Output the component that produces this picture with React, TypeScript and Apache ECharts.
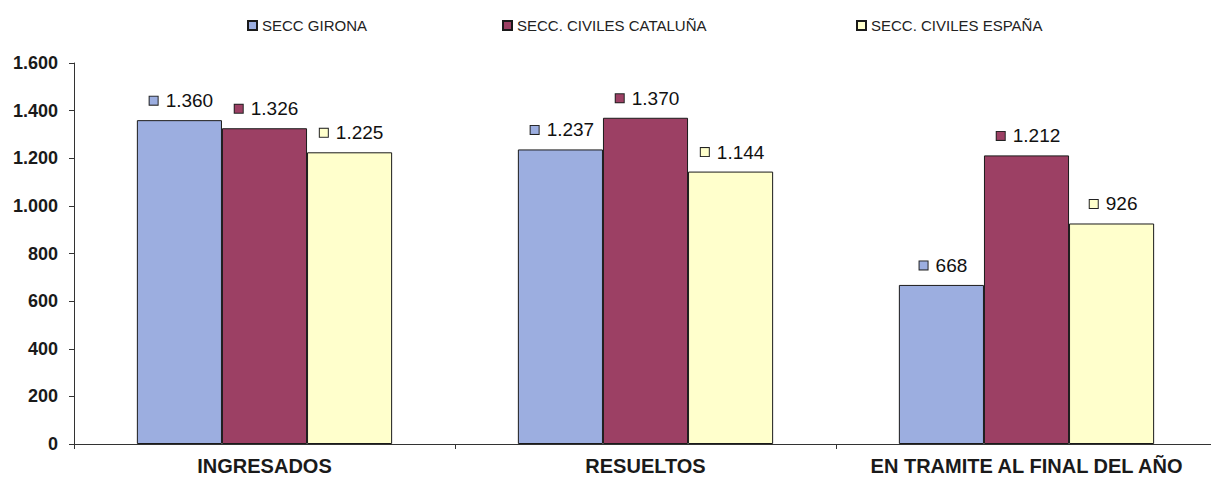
import React, { useEffect, useRef } from "react";
import * as echarts from "echarts";

const categories = ["INGRESADOS", "RESUELTOS", "EN TRAMITE AL FINAL DEL AÑO"];
const seriesNames = ["SECC GIRONA", "SECC. CIVILES CATALUÑA", "SECC. CIVILES ESPAÑA"];
const gironaValues = [1360, 1237, 668];
const catalunaValues = [1326, 1370, 1212];
const espanaValues = [1225, 1144, 926];
const seriesColors = ["#9CAEE0", "#9C4064", "#FFFFCC"];
const legendLefts = [242, 497, 851];

const fmt = (v: number) => String(Math.round(v)).replace(/\B(?=(\d{3})+(?!\d))/g, ".");

export default function App() {
  const ref = useRef<HTMLDivElement>(null);
  useEffect(() => {
    if (!ref.current) return;
    const chart = echarts.init(ref.current, null, { renderer: "svg" });
    const allValues = [gironaValues, catalunaValues, espanaValues];
    const series = allValues.map((vals, i) => ({
      name: seriesNames[i],
      type: "bar",
      data: vals,
      barGap: "0%",
      barCategoryGap: "33%",
      itemStyle: { color: seriesColors[i], borderColor: "#1a1a1a", borderWidth: 1 },
      label: {
        show: true,
        position: "top",
        distance: 10,
        offset: [2, 0],
        formatter: (p: any) => "{sq|}{v|" + fmt(p.value) + "}",
        rich: {
          sq: {
            width: 8,
            height: 8,
            backgroundColor: seriesColors[i],
            borderColor: "#222",
            borderWidth: 1,
          },
          v: {
            fontSize: 19,
            color: "#111",
            fontFamily: "Liberation Sans, Arial, sans-serif",
            padding: [0, 0, 0, 8],
          },
        },
      },
    }));
    chart.setOption({
      animation: false,
      backgroundColor: "#ffffff",
      legend: seriesNames.map((n, i) => ({
        data: [n],
        left: legendLefts[i],
        top: 13,
        icon: "rect",
        itemWidth: 9,
        itemHeight: 9,
        textStyle: { fontSize: 15, color: "#222", fontFamily: "Liberation Sans, Arial, sans-serif" },
      })),
      grid: { left: 74, top: 63, width: 1143, bottom: 51 },
      xAxis: {
        type: "category",
        data: categories,
        axisLine: { lineStyle: { color: "#333", width: 1 } },
        axisTick: { show: true, length: 5, lineStyle: { color: "#333" } },
        axisLabel: {
          interval: 0,
          fontSize: 20,
          fontWeight: "bold",
          color: "#1a1a1a",
          margin: 12,
          fontFamily: "Liberation Sans, Arial, sans-serif",
        },
      },
      yAxis: {
        type: "value",
        min: 0,
        max: 1600,
        interval: 200,
        splitLine: { show: false },
        axisLine: { show: true, lineStyle: { color: "#333", width: 1 } },
        axisTick: { show: true, length: 5, lineStyle: { color: "#333" } },
        axisLabel: {
          fontSize: 18,
          fontWeight: "bold",
          color: "#1a1a1a",
          margin: 16,
          formatter: (v: number) => fmt(v),
          fontFamily: "Liberation Sans, Arial, sans-serif",
        },
      },
      series,
    });
    return () => chart.dispose();
  }, []);
  return (
    <div
      style={{
        position: "fixed",
        left: 0,
        top: 0,
        width: 1211,
        height: 495,
        overflow: "hidden",
        background: "#fff",
      }}
    >
      <div ref={ref} style={{ width: 1225, height: 495 }} />
    </div>
  );
}
